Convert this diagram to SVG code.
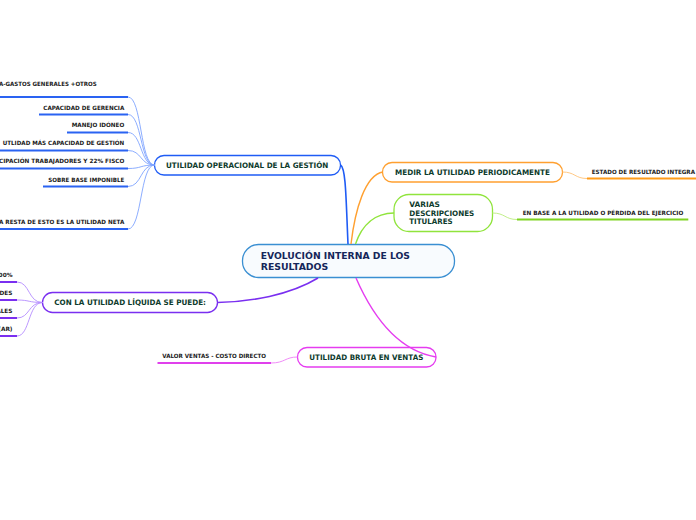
<svg xmlns="http://www.w3.org/2000/svg" width="696" height="520" viewBox="0 0 696 520">
<style>
.bg{fill:#ffffff}
.node{fill:#ffffff;stroke-width:1.3}
.nt{font-family:"DejaVu Sans",Verdana,sans-serif;font-weight:bold;font-size:7.5px;fill:#0d3b2c}
.ct{font-family:"DejaVu Sans",Verdana,sans-serif;font-weight:bold;font-size:9px;fill:#15265a}
.lt{font-family:"DejaVu Sans",Verdana,sans-serif;font-weight:bold;font-size:5.8px;fill:#1a1a1a}
.c{fill:none}
.ul{fill:none;stroke-width:2}
</style>
<rect class="bg" x="0" y="0" width="696" height="520"/>
<g id="n-center">
  <rect x="242.5" y="244.5" width="212" height="33" rx="16" fill="#f8fbfe" stroke="#3a8fd2" stroke-width="1.3"/>
  <text class="ct" x="260.7" y="259.4" textLength="149.3" lengthAdjust="spacingAndGlyphs">EVOLUCIÓN INTERNA DE LOS</text>
  <text class="ct" x="260.7" y="269.5" textLength="67.6" lengthAdjust="spacingAndGlyphs">RESULTADOS</text>
</g>
<g id="n-operacional">
  <rect class="node" x="154.5" y="155.5" width="186" height="19.5" rx="9.5" stroke="#1f5cf5"/>
  <text class="nt" x="166" y="168.4" textLength="162.3" lengthAdjust="spacingAndGlyphs">UTILIDAD OPERACIONAL DE LA GESTIÓN</text>
</g>
<g id="n-op-children">
  <path class="ul" d="M-2,97 H128 M39,114.5 H128 M67,132.5 H128 M-2,150.5 H128 M-2,168.5 H128 M43,186.5 H128 M-2,229 H128" stroke="#2a63f2"/>
  <text class="lt" x="-1" y="86" textLength="97.7" lengthAdjust="spacingAndGlyphs">A-GASTOS GENERALES +OTROS</text>
  <text class="lt" x="43.3" y="109.8" textLength="81" lengthAdjust="spacingAndGlyphs">CAPACIDAD DE GERENCIA</text>
  <text class="lt" x="71.7" y="127.4" textLength="52.6" lengthAdjust="spacingAndGlyphs">MANEJO IDÓNEO</text>
  <text class="lt" x="2.7" y="145.4" textLength="121.6" lengthAdjust="spacingAndGlyphs">UTLIDAD MÁS CAPACIDAD DE GESTIÓN</text>
  <text class="lt" x="-1" y="163.4" textLength="125.3" lengthAdjust="spacingAndGlyphs">CIPACIÓN TRABAJADORES Y 22% FISCO</text>
  <text class="lt" x="48.3" y="182.1" textLength="76" lengthAdjust="spacingAndGlyphs">SOBRE BASE IMPONIBLE</text>
  <text class="lt" x="-1" y="223.8" textLength="125.3" lengthAdjust="spacingAndGlyphs">A RESTA DE ESTO ES LA UTILIDAD NETA</text>
</g>
<g id="n-liquida">
  <rect class="node" x="42.5" y="292.5" width="175" height="20" rx="10" stroke="#7a2ff0"/>
  <text class="nt" x="54.3" y="305.3" textLength="151.7" lengthAdjust="spacingAndGlyphs">CON LA UTILIDAD LÍQUIDA SE PUEDE:</text>
</g>
<g id="n-liq-children">
  <path class="ul" d="M-2,282 H17 M-2,300 H17 M-2,318 H17 M-2,336 H17" stroke="#7a2ff0"/>
  <text class="lt" x="12.5" y="276.8" text-anchor="end">00%</text>
  <text class="lt" x="12.5" y="295" text-anchor="end">DES</text>
  <text class="lt" x="12.5" y="313" text-anchor="end">ALES</text>
  <text class="lt" x="12.5" y="331" text-anchor="end">(AR)</text>
</g>
<g id="n-medir">
  <rect class="node" x="382.5" y="162.5" width="180" height="19.5" rx="9.5" stroke="#ffa030"/>
  <text class="nt" x="395" y="175.3" textLength="155" lengthAdjust="spacingAndGlyphs">MEDIR LA UTILIDAD PERIODICAMENTE</text>
</g>
<g id="n-medir-child">
  <path class="ul" d="M587,178.5 H698" stroke="#ff9c1a"/>
  <text class="lt" x="591.7" y="174.2" textLength="103.3" lengthAdjust="spacingAndGlyphs">ESTADO DE RESULTADO INTEGRA</text>
</g>
<g id="n-varias">
  <rect class="node" x="394" y="194.5" width="98.5" height="37" rx="15" stroke="#90e43c"/>
  <text class="nt" x="409.3" y="206.6" textLength="30.7" lengthAdjust="spacingAndGlyphs">VARIAS</text>
  <text class="nt" x="409.3" y="215.5" textLength="65" lengthAdjust="spacingAndGlyphs">DESCRIPCIONES</text>
  <text class="nt" x="409.3" y="224.4" textLength="43.3" lengthAdjust="spacingAndGlyphs">TITULARES</text>
</g>
<g id="n-varias-child">
  <path class="ul" d="M517,219.5 H688.3" stroke="#7ed321"/>
  <text class="lt" x="522.7" y="214.8" textLength="160.6" lengthAdjust="spacingAndGlyphs">EN BASE A LA UTILIDAD O PÉRDIDA DEL EJERCICIO</text>
</g>
<g id="n-bruta">
  <rect class="node" x="297.5" y="347.5" width="138.5" height="19.5" rx="9.5" stroke="#e53cf0"/>
  <text class="nt" x="309.3" y="359.6" textLength="114" lengthAdjust="spacingAndGlyphs">UTILIDAD BRUTA EN VENTAS</text>
</g>
<g id="n-bruta-child">
  <path class="ul" d="M157.5,363 H271" stroke="#e040ec"/>
  <text class="lt" x="162.3" y="358.2" textLength="103.7" lengthAdjust="spacingAndGlyphs">VALOR VENTAS - COSTO DIRECTO</text>
</g>
<g id="connectors">
  <path class="c" d="M340.5,165 C346,168 346,200 348,244" stroke="#1f5cf5" stroke-width="1.6"/>
  <path class="c" d="M383,172 C365,175 355,210 351,244" stroke="#ffa030" stroke-width="1.4"/>
  <path class="c" d="M394,213 C375,213 362,225 355.5,244" stroke="#90e43c" stroke-width="1.4"/>
  <path class="c" d="M217.5,302.5 C250,302 290,295 318,278" stroke="#7a2ff0" stroke-width="1.6"/>
  <path class="c" d="M356,278 C370,310 395,350 436,357" stroke="#e53cf0" stroke-width="1.4"/>
  <g stroke="#7fa4ff" stroke-width="0.9" fill="none">
    <path d="M128,97 C142,97 140,165 154.5,165"/>
    <path d="M128,114.5 C142,114.5 140,165 154.5,165"/>
    <path d="M128,132.5 C142,132.5 140,165 154.5,165"/>
    <path d="M128,150.5 C142,150.5 140,165 154.5,165"/>
    <path d="M128,168.5 C142,168.5 140,165 154.5,165"/>
    <path d="M128,186.5 C142,186.5 140,165 154.5,165"/>
    <path d="M128,229 C142,229 140,165 154.5,165"/>
  </g>
  <g stroke="#b48cff" stroke-width="0.9" fill="none">
    <path d="M17,282 C30,282 28,302.5 42.5,302.5"/>
    <path d="M17,300 C30,300 28,302.5 42.5,302.5"/>
    <path d="M17,318 C30,318 28,302.5 42.5,302.5"/>
    <path d="M17,336 C30,336 28,302.5 42.5,302.5"/>
  </g>
  <path class="c" d="M562.5,172 C575,172 575,178.5 587,178.5" stroke="#ffc985" stroke-width="1"/>
  <path class="c" d="M492.5,213 C505,213 505,219.5 517,219.5" stroke="#c2ef8a" stroke-width="1"/>
  <path class="c" d="M297.5,357 C285,357 285,363 271,363" stroke="#f08cf8" stroke-width="1"/>
</g>
</svg>
